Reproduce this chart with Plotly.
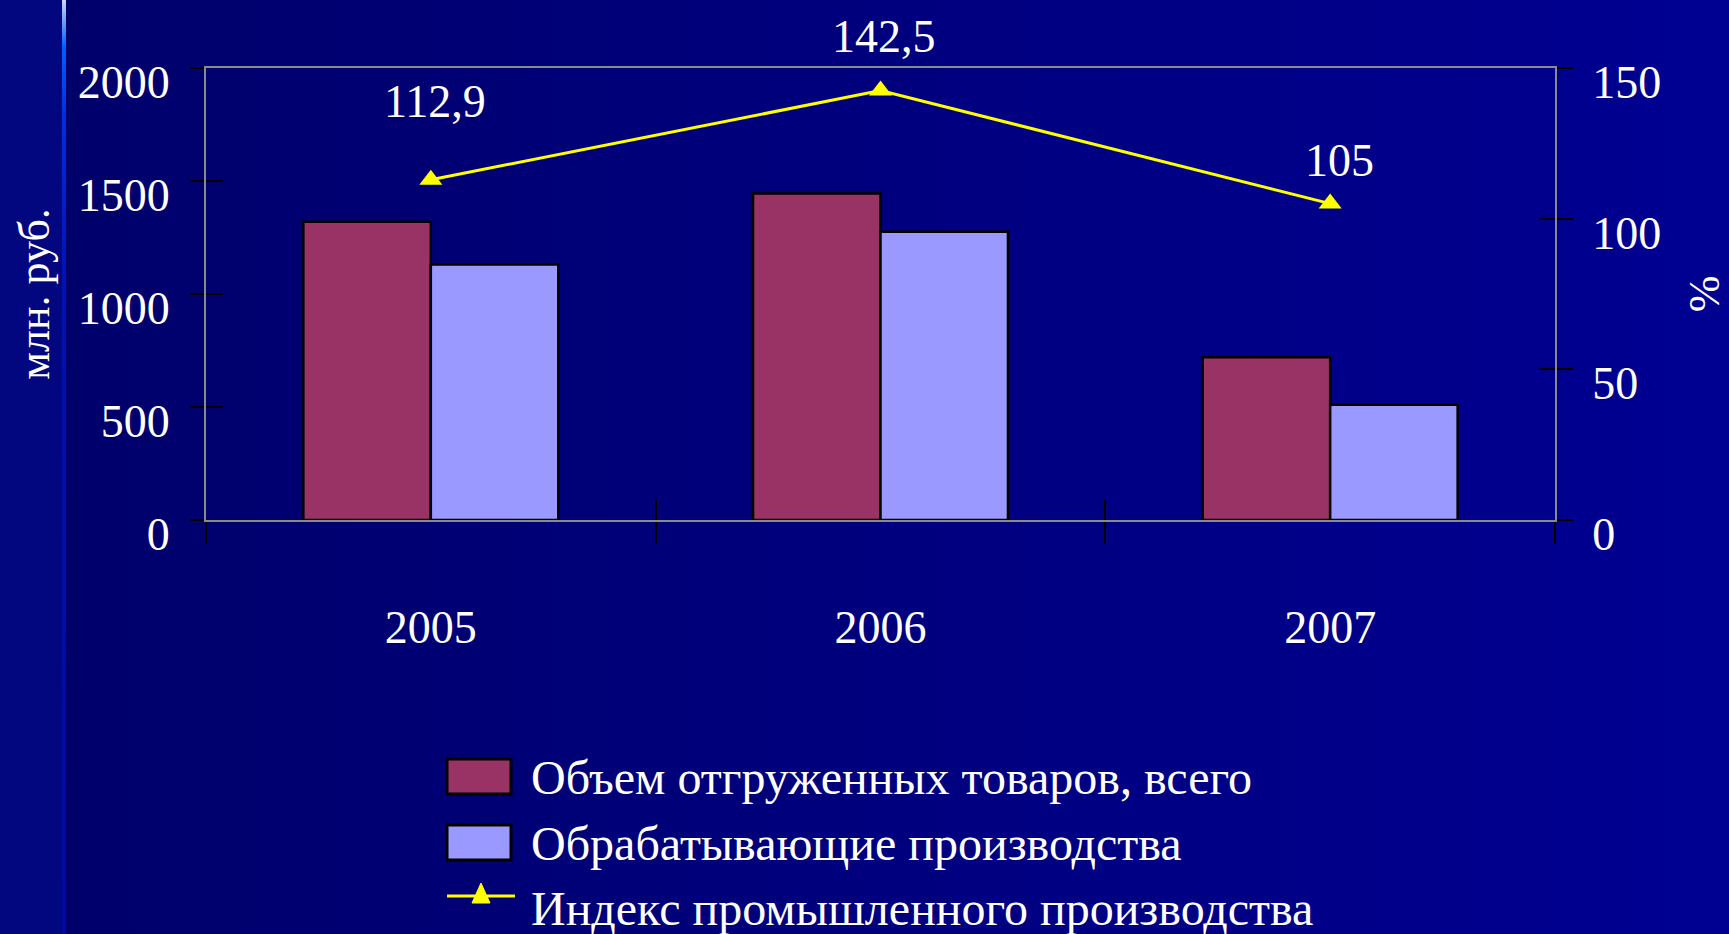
import base64
import plotly.graph_objects as go

# ---------------- data ----------------
years = ["2005", "2006", "2007"]
shipped_total = [1320, 1445, 720]          # Объем отгруженных товаров, всего (млн. руб.)
manufacturing = [1130, 1275, 510]          # Обрабатывающие производства (млн. руб.)
prod_index = [112.9, 142.5, 105]           # Индекс промышленного производства (%)
index_labels = ["112,9", "142,5", "105"]
series_names = ["Объем отгруженных товаров, всего",
                "Обрабатывающие производства",
                "Индекс промышленного производства"]
left_ticks = [0, 500, 1000, 1500, 2000]
right_ticks = [0, 50, 100, 150]

# ---------------- layout constants ----------------
W, H = 1729, 934
L, R, T, B = 206, 174, 68, 414
PW, PH = W - L - R, H - T - B
FONT = "Liberation Serif, Times New Roman, serif"
C_TOTAL = "#993366"
C_MANUF = "#9999FF"
C_LINE = "#FFFF00"


def px_x(px):
    return (px - L) / PW


def px_y(py):
    return (H - B - py) / PH


# background (gradient slide) as inline SVG
svg = f'''<svg xmlns="http://www.w3.org/2000/svg" width="{W}" height="{H}" viewBox="0 0 {W} {H}">
<defs>
<linearGradient id="bg" x1="0" y1="0" x2="1" y2="0">
<stop offset="0" stop-color="#00006A"/><stop offset="1" stop-color="#000092"/>
</linearGradient>
<linearGradient id="ln" x1="0" y1="0" x2="0" y2="1">
<stop offset="0" stop-color="#C8D8F0"/><stop offset="0.05" stop-color="#0060FF"/>
<stop offset="0.12" stop-color="#0030E0"/><stop offset="0.3" stop-color="#0012B0"/>
<stop offset="1" stop-color="#0008A0"/>
</linearGradient>
</defs>
<rect x="0" y="0" width="{W}" height="{H}" fill="url(#bg)"/>
<rect x="0" y="0" width="62" height="{H}" fill="#03077F"/>
<rect x="62" y="0" width="4" height="{H}" fill="url(#ln)"/>
</svg>'''
bg_uri = "data:image/svg+xml;base64," + base64.b64encode(svg.encode()).decode()

fig = go.Figure()
fig.add_trace(go.Bar(x=years, y=shipped_total, name=series_names[0],
                     marker=dict(color=C_TOTAL, line=dict(color="black", width=2.5)),
                     showlegend=False))
fig.add_trace(go.Bar(x=years, y=manufacturing, name=series_names[1],
                     marker=dict(color=C_MANUF, line=dict(color="black", width=2.5)),
                     showlegend=False))
fig.add_trace(go.Scatter(x=years, y=prod_index, name=series_names[2], yaxis="y2",
                         mode="lines+markers",
                         line=dict(color=C_LINE, width=3),
                         marker=dict(symbol="triangle-up", size=20, color=C_LINE),
                         showlegend=False))

# data labels for the index line (x given as category index)
label_shift = [78, 54, 43]
label_xshift = [4, 3, 9]
annotations = []
for i, (v, t, s, xs) in enumerate(zip(prod_index, index_labels, label_shift, label_xshift)):
    annotations.append(dict(x=i, y=v, xref="x", yref="y2", text=t, showarrow=False,
                            yshift=s, xshift=xs, font=dict(family=FONT, size=46, color="white")))

# custom legend (large swatches, like the original slide)
shapes = []
leg_rows = [777, 843, 908]
sw_x0, sw_x1 = 447, 511
for i, col in enumerate([C_TOTAL, C_MANUF]):
    cy = leg_rows[i]
    shapes.append(dict(type="rect", xref="paper", yref="paper",
                       x0=px_x(sw_x0), x1=px_x(sw_x1), y0=px_y(cy - 18), y1=px_y(cy + 17),
                       fillcolor=col, line=dict(color="black", width=3)))
cy = leg_rows[2] - 12
shapes.append(dict(type="line", xref="paper", yref="paper",
                   x0=px_x(447), x1=px_x(515), y0=px_y(cy), y1=px_y(cy),
                   line=dict(color=C_LINE, width=3)))
tx, tw, th = 481, 9, 20
shapes.append(dict(type="path", xref="paper", yref="paper",
                   path=f"M {px_x(tx - tw)},{px_y(cy + 7)} L {px_x(tx + tw)},{px_y(cy + 7)} "
                        f"L {px_x(tx)},{px_y(cy + 7 - th)} Z",
                   fillcolor=C_LINE, line=dict(color=C_LINE, width=1)))
for name, cy in zip(series_names, leg_rows):
    annotations.append(dict(xref="paper", yref="paper", x=px_x(529), y=px_y(cy),
                            xanchor="left", yanchor="middle", text=name, showarrow=False,
                            font=dict(family=FONT, size=48, color="white")))

n = len(years)
boundaries = [i - 0.5 for i in range(n + 1)]

fig.update_layout(
    width=W, height=H,
    margin=dict(l=L, r=R, t=T, b=B, pad=0, autoexpand=False),
    paper_bgcolor="#000078",
    plot_bgcolor="rgba(0,0,0,0)",
    barmode="group", bargap=0.433, bargroupgap=0,
    showlegend=False,
    images=[dict(source=bg_uri, xref="paper", yref="paper",
                 x=-L / PW, y=1 + T / PH, sizex=W / PW, sizey=H / PH,
                 xanchor="left", yanchor="top", sizing="stretch", layer="below")],
    xaxis=dict(type="category", categoryorder="array", categoryarray=years,
               range=[-0.5, n - 0.5], automargin=False,
               tickson="boundaries", ticks="outside", ticklen=22, tickwidth=2,
               tickcolor="black", showline=True, linecolor="#8A8A8A", linewidth=2,
               mirror=True, showgrid=False, zeroline=False,
               ticklabelstandoff=66,
               tickfont=dict(family=FONT, size=46, color="white")),
    xaxis2=dict(overlaying="x", anchor="y", side="bottom", range=[-0.5, n - 0.5],
                automargin=False,
                tickvals=boundaries, ticks="inside", ticklen=20, tickwidth=2,
                tickcolor="black", showticklabels=False, showline=False,
                showgrid=False, zeroline=False),
    yaxis=dict(range=[0, 2000], tickvals=left_ticks, ticks="outside", ticklen=14,
               automargin=False,
               tickwidth=2, tickcolor="black", showline=True, linecolor="#8A8A8A",
               linewidth=2, showgrid=False, zeroline=False,
               ticklabelstandoff=11, ticklabelshift=14,
               tickfont=dict(family=FONT, size=46, color="white"),
               title=dict(text="млн. руб.", standoff=14,
                          font=dict(family=FONT, size=44, color="white"))),
    yaxis3=dict(overlaying="y", anchor="x", side="left", range=[0, 2000],
                automargin=False,
                tickvals=left_ticks, ticks="inside", ticklen=17, tickwidth=2,
                tickcolor="black", showticklabels=False, showline=False,
                showgrid=False, zeroline=False),
    yaxis2=dict(overlaying="y", side="right", anchor="x", range=[0, 150],
                automargin=False,
                tickvals=right_ticks, ticks="outside", ticklen=16, tickwidth=2,
                tickcolor="black", showline=True, linecolor="#8A8A8A", linewidth=2,
                showgrid=False, zeroline=False,
                ticklabelstandoff=10, ticklabelshift=14,
                tickfont=dict(family=FONT, size=46, color="white"),
                title=dict(text="%", standoff=44,
                           font=dict(family=FONT, size=44, color="white"))),
    yaxis4=dict(overlaying="y", side="right", anchor="x", range=[0, 150],
                automargin=False,
                tickvals=right_ticks, ticks="inside", ticklen=16, tickwidth=2,
                tickcolor="black", showticklabels=False, showline=False,
                showgrid=False, zeroline=False),
    shapes=shapes,
    annotations=annotations,
)

# invisible traces so the overlay (crossing-tick) axes are rendered
fig.add_trace(go.Scatter(x=[None], y=[None], xaxis="x2", yaxis="y3",
                         showlegend=False, hoverinfo="skip"))
fig.add_trace(go.Scatter(x=[None], y=[None], xaxis="x2", yaxis="y4",
                         showlegend=False, hoverinfo="skip"))

fig.write_html("out.html", config={"displayModeBar": False},
               post_script="document.body.style.margin='0';document.body.style.overflow='hidden';")
